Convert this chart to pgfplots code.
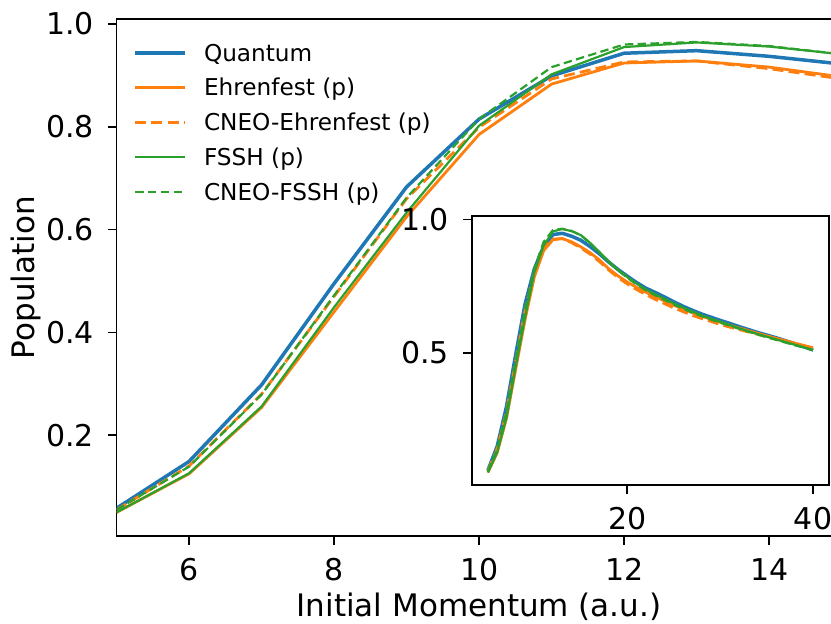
\documentclass[border=0pt]{standalone}
\usepackage{pgfplots}
\pgfplotsset{compat=1.18}
\usepackage{pgfplotstable}
\usepackage{fontspec}
\setmainfont{DejaVu Sans}

\definecolor{tabblue}{HTML}{1F77B4}
\definecolor{taborange}{HTML}{FF7F0E}
\definecolor{tabgreen}{HTML}{2CA02C}

% population vs initial momentum (a.u.)
% q = quantum, e = Ehrenfest, ce = CNEO-Ehrenfest, f = FSSH, cf = CNEO-FSSH
\pgfplotstableread{
x  q     e     ce    f     cf
5  0.058 0.050 0.055 0.050 0.055
6  0.149 0.125 0.140 0.126 0.139
7  0.298 0.254 0.280 0.256 0.279
8  0.495 0.440 0.470 0.449 0.472
9  0.683 0.625 0.660 0.633 0.662
10 0.815 0.785 0.799 0.802 0.815
11 0.899 0.883 0.893 0.902 0.916
12 0.943 0.924 0.926 0.955 0.960
13 0.948 0.928 0.928 0.964 0.965
14 0.937 0.916 0.913 0.956 0.957
15 0.922 0.897 0.893 0.941 0.941
16 0.898 0.875 0.870 0.912 0.910
17 0.871 0.848 0.842 0.878 0.875
18 0.840 0.815 0.810 0.842 0.840
19 0.812 0.788 0.782 0.811 0.809
20 0.787 0.765 0.758 0.784 0.781
21 0.763 0.745 0.737 0.759 0.756
22 0.742 0.727 0.718 0.737 0.734
23 0.726 0.710 0.700 0.719 0.715
24 0.709 0.694 0.684 0.702 0.698
25 0.691 0.678 0.668 0.685 0.681
26 0.674 0.664 0.654 0.669 0.665
27 0.659 0.650 0.640 0.654 0.650
28 0.645 0.637 0.628 0.640 0.637
29 0.633 0.625 0.617 0.627 0.624
30 0.621 0.614 0.606 0.616 0.613
31 0.610 0.603 0.596 0.604 0.601
32 0.598 0.593 0.587 0.592 0.590
33 0.587 0.583 0.578 0.581 0.579
34 0.576 0.573 0.569 0.570 0.568
35 0.566 0.563 0.560 0.560 0.558
36 0.556 0.554 0.551 0.550 0.548
37 0.545 0.545 0.542 0.540 0.538
38 0.534 0.536 0.533 0.530 0.528
39 0.522 0.527 0.524 0.520 0.519
40 0.510 0.518 0.516 0.510 0.509
}\pop

\pgfplotsset{
  quantum/.style={tabblue, line width=1.75pt, line join=round},
  ehr/.style={taborange, line width=1.4pt, line join=round},
  cehr/.style={taborange, line width=1.4pt, dash pattern=on 5.5pt off 2.6pt},
  fssh/.style={tabgreen, line width=1.1pt, line join=round},
  cfssh/.style={tabgreen, line width=1.1pt, dash pattern=on 4.2pt off 2.2pt},
  common/.style={
    scale only axis,
    tick align=outside,
    xtick pos=bottom, ytick pos=left,
    major tick length=4.3pt,
    every tick/.style={black, line width=0.9pt},
    axis line style={line width=0.9pt},
    tick label style={font=\fontsize{15}{18}\selectfont},
    xticklabel style={yshift=-3.5pt},
    yticklabel style={xshift=-3.5pt, /pgf/number format/fixed, /pgf/number format/precision=1, /pgf/number format/fixed zerofill},
    /pgf/number format/assume math mode=true,
    no markers,
  },
}

\begin{document}
\begin{tikzpicture}
\useasboundingbox (-58.3pt,-43.5pt) rectangle (357.2pt,268pt);

% main panel
\begin{axis}[
  common,
  at={(0pt,0pt)}, anchor=south west,
  width=362.5pt, height=258.35pt,
  xmin=5, xmax=15, ymin=0.004, ymax=1.009,
  xtick={6,8,10,12,14},
  ytick={0.2,0.4,0.6,0.8,1.0},
  xlabel={Initial Momentum (a.u.)},
  ylabel={Population},
  xlabel style={at={(axis description cs:0.5,-0.1374)}, anchor=center, font=\fontsize{15.5}{18}\selectfont},
  ylabel style={at={(axis description cs:-0.125,0.5)}, anchor=center, rotate=0, font=\fontsize{15.5}{18}\selectfont},
  legend cell align=left,
  legend image code/.code={\draw[#1] (0pt,0.35em) -- (25pt,0.35em); \path (33.5pt,0.35em);},
  legend style={draw=none, fill=none, at={(axis description cs:0.0145,0.963)}, anchor=north west,
    font=\fontsize{11.6}{14}\selectfont, row sep=0pt,
    nodes={inner sep=0pt, text height=9.2pt, text depth=8.15pt}},
]
\addplot[quantum] table[x=x, y=q] {\pop};
\addlegendentry{Quantum}
\addplot[ehr] table[x=x, y=e] {\pop};
\addlegendentry{Ehrenfest (p)}
\addplot[cehr] table[x=x, y=ce] {\pop};
\addlegendentry{CNEO-Ehrenfest (p)}
\addplot[fssh] table[x=x, y=f] {\pop};
\addlegendentry{FSSH (p)}
\addplot[cfssh] table[x=x, y=cf] {\pop};
\addlegendentry{CNEO-FSSH (p)}
\end{axis}

% inset: full momentum range
\begin{axis}[
  common,
  at={(177.55pt,25.5pt)}, anchor=south west,
  width=178.8pt, height=134.65pt,
  xmin=3.25, xmax=41.75, ymin=0.003, ymax=1.014,
  xtick={20,40}, ytick={0.5,1.0},
  axis background/.style={fill=white},
]
\addplot[quantum] table[x=x, y=q] {\pop};
\addplot[ehr] table[x=x, y=e] {\pop};
\addplot[cehr] table[x=x, y=ce] {\pop};
\addplot[fssh] table[x=x, y=f] {\pop};
\addplot[cfssh] table[x=x, y=cf] {\pop};
\end{axis}
\end{tikzpicture}
\end{document}
